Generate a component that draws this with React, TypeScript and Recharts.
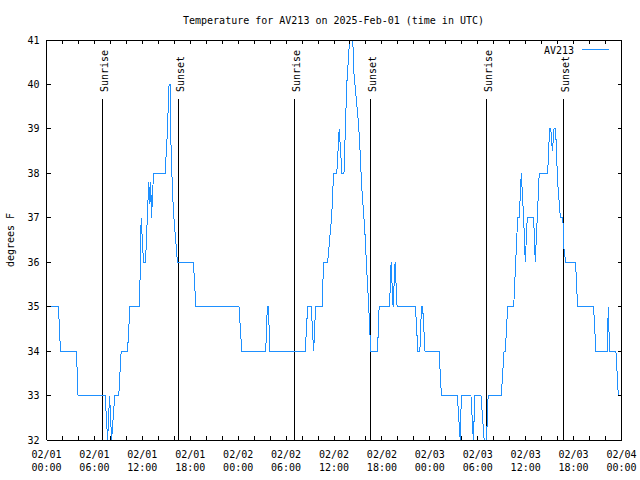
import { Customized, Line, LineChart, ReferenceLine, XAxis, YAxis } from "recharts";

// hours since 02/01 00:00 UTC, with the temperature read at each vertex of the trace
const hours = [
  0, 1.5, 1.75, 3.75, 3.95, 7.35, 7.65, 7.9, 8.15, 8.55, 9.05, 9.35, 10.15, 10.45, 11.65, 11.85,
  12.15, 12.4, 12.8, 12.95, 13.05, 13.15, 13.4, 14.85, 15.1, 15.35, 15.5, 15.6, 15.8, 15.95, 16.4,
  18.4, 18.7, 24.1, 24.45, 27.45, 27.65, 27.8, 27.95, 32.4, 32.7, 33.15, 33.45, 33.7, 34.5, 34.7,
  35.2, 35.7, 35.95, 36.35, 36.65, 37.0, 37.25, 37.6, 37.95, 38.35, 38.5, 38.75, 39.0, 39.2, 39.45,
  39.65, 39.85, 40.05, 40.35, 40.6, 41.45, 41.65, 42.95, 43.15, 43.4, 43.65, 43.9, 46.2, 46.5,
  46.75, 46.95, 47.1, 47.4, 49.15, 49.45, 51.45, 51.8, 51.95, 53.15, 53.45, 53.65, 54.4, 54.8,
  55.1, 55.3, 56.95, 57.3, 57.45, 57.75, 58.5, 58.75, 59.0, 59.2, 59.45, 59.75, 59.95, 60.2, 61.0,
  61.2, 61.45, 61.7, 62.75, 63.0, 63.15, 63.35, 63.55, 63.75, 64.0, 64.35, 64.65, 64.8, 65.0,
  66.25, 66.5, 68.5, 68.8, 70.2, 70.35, 70.5, 71.3, 71.6, 72,
];
const temps = [
  35, 35, 34, 34, 33, 33, 32, 33, 32, 33, 33, 34, 34, 35, 35, 37,
  36, 36, 37.8, 37.3, 37.8, 37, 38, 38, 38.8, 40, 40, 38.5, 37.5, 37, 36,
  36, 35, 35, 34, 34, 35, 35, 34, 34, 35, 35, 34, 35, 35, 36,
  36, 37, 38, 38, 39, 38, 38, 40, 41, 41, 40.25, 39.75, 39.25, 38.75, 37.75,
  37.25, 36.75, 36, 35, 34, 34, 35, 35, 36, 35, 36, 35, 35, 34,
  34, 35, 35, 34, 34, 33, 33, 32, 33, 33, 32, 33, 33, 32,
  32, 33, 33, 34, 34, 35, 35, 36, 37, 37, 38, 37, 36, 37, 37,
  36, 37, 38, 38, 39, 39, 38.5, 39, 39, 37.8, 37, 37, 36.3, 36,
  36, 35, 35, 34, 34, 35, 34, 34, 33, 33,
];

const sunHours = [7.05, 16.57, 31.1, 40.62, 55.14, 64.7];
const sunLabels = ["Sunrise", "Sunset", "Sunrise", "Sunset", "Sunrise", "Sunset"];

const xTicks = [0, 2, 4, 6, 8, 10, 12, 14, 16, 18, 20, 22, 24, 26, 28, 30, 32, 34, 36, 38, 40, 42, 44, 46, 48, 50, 52, 54, 56, 58, 60, 62, 64, 66, 68, 70, 72];
const yTicks = [32, 33, 34, 35, 36, 37, 38, 39, 40, 41];

const data = hours.map((h, i) => ({ h, temp: temps[i] }));

const FONT = '"DejaVu Sans Mono", "Liberation Mono", monospace';
const BLUE = "#1e90ff";
const MARK_TOP = 39.67;

function timeLabel(v: number) {
  const day = 1 + Math.floor(v / 24);
  const hr = v % 24;
  return [`02/0${day}`, `${String(hr).padStart(2, "0")}:00`];
}

function BottomTick({ x, y, payload }: any) {
  const v = payload.value;
  const [d, t] = timeLabel(v);
  return (
    <g>
      <line x1={x} y1={y} x2={x} y2={y - 4} stroke="#000" />
      {v % 6 === 0 && (
        <text x={x} y={y} textAnchor="middle" fontFamily={FONT} fontSize={10} fill="#000">
          <tspan x={x} dy={17.5}>{d}</tspan>
          <tspan x={x} dy={13.5}>{t}</tspan>
        </text>
      )}
    </g>
  );
}

function TopTick({ x, y }: any) {
  return <line x1={x} y1={y} x2={x} y2={y + 4} stroke="#000" />;
}

function LeftTick({ x, y, payload }: any) {
  return (
    <g>
      <line x1={x} y1={y} x2={x + 4} y2={y} stroke="#000" />
      <text x={x - 7} y={y} dy={3.5} textAnchor="end" fontFamily={FONT} fontSize={10} fill="#000">
        {payload.value}
      </text>
    </g>
  );
}

function RightTick({ x, y }: any) {
  return <line x1={x} y1={y} x2={x - 4} y2={y} stroke="#000" />;
}

function SunMark({ x1, y1, y2, name }: any) {
  const top = Math.min(y1, y2);
  const bottom = Math.max(y1, y2);
  return (
    <g>
      <line x1={x1} y1={top} x2={x1} y2={bottom} stroke="#000" />
      <text
        x={x1 + 5.5}
        y={top - 7}
        transform={`rotate(-90 ${x1 + 5.5} ${top - 7})`}
        textAnchor="start"
        fontFamily={FONT}
        fontSize={10}
        fill="#000"
      >
        {name}
      </text>
    </g>
  );
}

function Decorations() {
  return (
    <g fontFamily={FONT} fontSize={10} fill="#000">
      <text x={333.5} y={23.5} textAnchor="middle">
        Temperature for AV213 on 2025-Feb-01 (time in UTC)
      </text>
      <text x={14} y={240} transform="rotate(-90 14 240)" textAnchor="middle">
        degrees F
      </text>
      <text x={574} y={53.5} textAnchor="end">
        AV213
      </text>
      <line x1={582} y1={49.5} x2={609} y2={49.5} stroke={BLUE} />
    </g>
  );
}

export default function App() {
  return (
    <div
      style={{
        position: "absolute",
        left: 0,
        top: 0,
        width: 640,
        height: 480,
        background: "#fff",
        shapeRendering: "crispEdges",
      }}
    >
      <LineChart width={640} height={480} data={data} margin={{ top: 0, right: 0, bottom: 0, left: 0 }}>
        <XAxis
          dataKey="h"
          type="number"
          domain={[0, 72]}
          ticks={xTicks}
          interval={0}
          tick={<BottomTick />}
          tickLine={false}
          tickSize={0}
          tickMargin={0}
          height={40}
          axisLine={{ stroke: "#000" }}
          allowDataOverflow
        />
        <XAxis
          xAxisId="top"
          orientation="top"
          dataKey="h"
          type="number"
          domain={[0, 72]}
          ticks={xTicks}
          interval={0}
          tick={<TopTick />}
          tickLine={false}
          tickSize={0}
          tickMargin={0}
          height={40}
          axisLine={{ stroke: "#000" }}
          allowDataOverflow
        />
        <YAxis
          type="number"
          domain={[32, 41]}
          ticks={yTicks}
          interval={0}
          tick={<LeftTick />}
          tickLine={false}
          tickSize={0}
          tickMargin={0}
          width={46.5}
          axisLine={{ stroke: "#000" }}
          allowDataOverflow
        />
        <YAxis
          yAxisId="r"
          orientation="right"
          type="number"
          domain={[32, 41]}
          ticks={yTicks}
          interval={0}
          tick={<RightTick />}
          tickLine={false}
          tickSize={0}
          tickMargin={0}
          width={18.5}
          axisLine={{ stroke: "#000" }}
          allowDataOverflow
        />
        {sunHours.map((t, i) => (
          <ReferenceLine
            key={i}
            segment={[
              { x: t, y: 32 },
              { x: t, y: MARK_TOP },
            ]}
            stroke="#000"
            shape={(p: any) => <SunMark {...p} name={sunLabels[i]} />}
          />
        ))}
        <Line dataKey="temp" type="linear" stroke={BLUE} strokeWidth={1} dot={false} isAnimationActive={false} />
        <Customized component={Decorations} />
      </LineChart>
    </div>
  );
}
